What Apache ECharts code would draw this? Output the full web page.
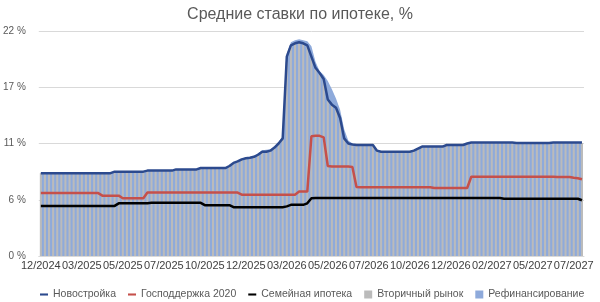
<!DOCTYPE html>
<html><head><meta charset="utf-8">
<script src="https://cdn.jsdelivr.net/npm/echarts@6/dist/echarts.min.js"></script>
<style>html,body{margin:0;padding:0;background:#fff}#c{width:600px;height:302px}</style>
</head><body><div id="c"></div>
<script>
const tickLabels = ['12/2024','03/2025','05/2025','07/2025','10/2025','12/2025','03/2026','05/2026','07/2026','10/2026','12/2026','02/2027','05/2027','07/2027'];
const yTicks = [0, 5.5, 11, 16.5, 22];

const novostroyka = [
 8.1,8.1,8.1,8.1,8.1,8.1,8.1,8.1,8.1,8.1,
 8.1,8.1,8.1,8.1,8.1,8.1,8.1,8.1,8.25,8.25,
 8.25,8.25,8.25,8.25,8.25,8.25,8.35,8.35,8.35,8.35,
 8.35,8.35,8.35,8.47,8.47,8.47,8.47,8.47,8.47,8.6,
 8.6,8.6,8.6,8.6,8.6,8.6,8.8,9.1,9.25,9.45,
 9.55,9.6,9.7,9.9,10.2,10.2,10.3,10.6,11.0,11.5,
 19.5,20.6,20.8,20.9,20.8,20.6,19.5,18.4,17.9,17.3,
 15.3,14.8,14.5,13.5,11.5,11.0,10.9,10.85,10.85,10.85,
 10.85,10.85,10.3,10.2,10.2,10.2,10.2,10.2,10.2,10.2,
 10.2,10.3,10.5,10.7,10.7,10.7,10.7,10.7,10.7,10.85,
 10.85,10.85,10.85,10.85,11.0,11.1,11.1,11.1,11.1,11.1,
 11.1,11.1,11.1,11.1,11.1,11.1,11.05,11.05,11.05,11.05,
 11.05,11.05,11.05,11.05,11.05,11.1,11.1,11.1,11.1,11.1,
 11.1,11.1,11.1
];
const gospodderzhka = [
 6.15,6.15,6.15,6.15,6.15,6.15,6.15,6.15,6.15,6.15,
 6.15,6.15,6.15,6.15,6.15,5.9,5.9,5.9,5.9,5.9,
 5.65,5.65,5.65,5.65,5.65,5.65,6.2,6.2,6.2,6.2,
 6.2,6.2,6.2,6.2,6.2,6.2,6.2,6.2,6.2,6.2,
 6.2,6.2,6.2,6.2,6.2,6.2,6.2,6.2,6.2,6.0,
 6.0,6.0,6.0,6.0,6.0,6.0,6.0,6.0,6.0,6.0,
 6.0,6.0,6.0,6.3,6.3,6.3,11.7,11.75,11.75,11.6,
 8.8,8.75,8.75,8.75,8.75,8.75,8.7,6.75,6.72,6.72,
 6.72,6.72,6.72,6.72,6.72,6.72,6.72,6.72,6.72,6.72,
 6.72,6.72,6.72,6.72,6.72,6.72,6.65,6.65,6.65,6.65,
 6.65,6.65,6.65,6.65,6.65,7.75,7.75,7.75,7.75,7.75,
 7.75,7.75,7.75,7.75,7.75,7.75,7.75,7.75,7.75,7.75,
 7.75,7.75,7.75,7.75,7.75,7.75,7.72,7.72,7.72,7.72,
 7.65,7.6,7.5
];
const semeynaya = [
 4.9,4.9,4.9,4.9,4.9,4.9,4.9,4.9,4.9,4.9,
 4.9,4.9,4.9,4.9,4.9,4.9,4.9,4.9,4.9,5.15,
 5.15,5.15,5.15,5.15,5.15,5.15,5.15,5.2,5.2,5.2,
 5.2,5.2,5.2,5.2,5.2,5.2,5.2,5.2,5.2,5.2,
 4.97,4.97,4.97,4.97,4.97,4.97,4.97,4.77,4.77,4.77,
 4.77,4.77,4.77,4.77,4.77,4.77,4.77,4.77,4.77,4.77,
 4.85,5.0,5.0,5.0,5.0,5.15,5.64,5.67,5.67,5.67,
 5.67,5.67,5.67,5.67,5.67,5.67,5.67,5.67,5.67,5.67,
 5.67,5.67,5.67,5.67,5.67,5.67,5.67,5.67,5.67,5.67,
 5.67,5.67,5.67,5.67,5.67,5.67,5.67,5.67,5.67,5.67,
 5.67,5.67,5.67,5.67,5.67,5.67,5.67,5.67,5.67,5.67,
 5.67,5.67,5.67,5.6,5.6,5.6,5.6,5.6,5.6,5.6,
 5.6,5.6,5.6,5.6,5.6,5.6,5.6,5.6,5.6,5.6,
 5.6,5.6,5.45
];
const vtorichny = [
 8.1,8.1,8.1,8.1,8.1,8.1,8.1,8.1,8.1,8.1,
 8.1,8.1,8.1,8.1,8.1,8.1,8.1,8.1,8.2,8.2,
 8.2,8.2,8.2,8.2,8.2,8.2,8.3,8.3,8.3,8.3,
 8.3,8.3,8.3,8.45,8.45,8.45,8.45,8.45,8.45,8.55,
 8.55,8.55,8.55,8.55,8.55,8.55,8.75,9.05,9.2,9.4,
 9.5,9.55,9.65,9.85,10.1,10.15,10.25,10.5,10.9,11.4,
 19.0,20.5,20.7,20.8,20.7,20.5,19.4,18.3,17.8,17.2,
 15.4,14.8,14.4,13.4,11.5,11.0,10.9,10.8,10.8,10.8,
 10.8,10.8,10.3,10.15,10.15,10.15,10.15,10.15,10.15,10.15,
 10.15,10.25,10.45,10.65,10.65,10.65,10.65,10.65,10.65,10.8,
 10.8,10.8,10.8,10.8,10.95,11.05,11.05,11.05,11.05,11.05,
 11.05,11.05,11.05,11.05,11.05,11.05,11.0,11.0,11.0,11.0,
 11.0,11.0,11.0,11.0,11.0,11.05,11.05,11.05,11.05,11.05,
 11.05,11.05,11.05
];
const refinans = [
 8.15,8.15,8.15,8.15,8.15,8.15,8.15,8.15,8.15,8.15,
 8.15,8.15,8.15,8.15,8.15,8.15,8.15,8.15,8.3,8.3,
 8.3,8.3,8.3,8.3,8.3,8.3,8.4,8.4,8.4,8.4,
 8.4,8.4,8.4,8.5,8.5,8.5,8.5,8.5,8.5,8.65,
 8.65,8.65,8.65,8.65,8.65,8.65,8.85,9.15,9.3,9.5,
 9.6,9.65,9.8,10.05,10.35,10.4,10.45,10.7,11.1,11.7,
 19.8,20.9,21.1,21.2,21.1,21.0,20.5,19.0,18.1,17.7,
 17.1,16.3,15.4,14.3,12.4,11.3,11.0,10.9,10.9,10.9,
 10.9,10.9,10.35,10.25,10.25,10.25,10.25,10.25,10.25,10.25,
 10.25,10.35,10.55,10.75,10.75,10.75,10.75,10.75,10.75,10.9,
 10.9,10.9,10.9,10.9,11.05,11.15,11.15,11.15,11.15,11.15,
 11.15,11.15,11.15,11.15,11.15,11.15,11.1,11.1,11.1,11.1,
 11.1,11.1,11.1,11.1,11.1,11.15,11.15,11.15,11.15,11.15,
 11.15,11.15,11.15
];
const categories = novostroyka.map((_, i) => 'p' + i);

const FONT = 'Liberation Sans, Arial, sans-serif';
const LINE_ICON = 'path://M0,0H10V2.6H0Z';
const chart = echarts.init(document.getElementById('c'), null, {renderer: 'canvas'});
chart.setOption({
  animation: false,
  textStyle: {fontFamily: FONT},
  title: {text: 'Средние ставки по ипотеке, %', left: 'center', top: 2,
    textStyle: {fontSize: 16, fontWeight: 'normal', color: '#595959', fontFamily: FONT}},
  grid: {left: 37, right: 16, top: 31, bottom: 46, containLabel: false},
  legend: {
    left: 40, top: 289, padding: 0, itemWidth: 8, itemHeight: 8, itemGap: 12,
    textStyle: {fontSize: 10.5, color: '#595959', fontFamily: FONT},
    data: [
      {name: 'Новостройка', icon: LINE_ICON},
      {name: 'Господдержка 2020', icon: LINE_ICON},
      {name: 'Семейная ипотека', icon: LINE_ICON},
      {name: 'Вторичный рынок', icon: 'rect'},
      {name: 'Рефинансирование', icon: 'rect'}
    ]
  },
  xAxis: {
    type: 'category', data: categories, boundaryGap: true,
    axisLine: {show: true, lineStyle: {color: '#d9d9d9'}},
    axisTick: {show: false},
    axisLabel: {interval: 9, margin: 4, fontSize: 11, color: '#404040', fontFamily: FONT,
      formatter: (v, i) => tickLabels[Math.round(i / 10)] || ''}
  },
  yAxis: {
    type: 'value', min: yTicks[0], max: yTicks[yTicks.length - 1], interval: yTicks[1] - yTicks[0],
    axisLine: {show: false}, axisTick: {show: false},
    splitLine: {lineStyle: {color: '#d9d9d9'}},
    axisLabel: {margin: 13, fontSize: 10, color: '#595959', fontFamily: FONT,
      formatter: v => Math.round(v) + ' %'}
  },
  series: [
    {name: 'Рефинансирование', type: 'line', data: refinans, symbol: 'none',
      lineStyle: {width: 0}, areaStyle: {color: '#8eaadb', opacity: 1}, itemStyle: {color: '#8eaadb'}, z: 1},
    {name: 'Вторичный рынок', type: 'bar', data: vtorichny, barWidth: '50%',
      itemStyle: {color: '#bbbbbb'}, z: 2},
    {name: 'Семейная ипотека', type: 'line', data: semeynaya, symbol: 'none',
      lineStyle: {width: 2.5, color: '#000000'}, itemStyle: {color: '#000000'}, z: 3},
    {name: 'Господдержка 2020', type: 'line', data: gospodderzhka, symbol: 'none',
      lineStyle: {width: 2.5, color: '#c5504b'}, itemStyle: {color: '#c5504b'}, z: 3},
    {name: 'Новостройка', type: 'line', data: novostroyka, symbol: 'none',
      lineStyle: {width: 2.5, color: '#2c4a8e'}, itemStyle: {color: '#2c4a8e'}, z: 3}
  ]
});
</script></body></html>
